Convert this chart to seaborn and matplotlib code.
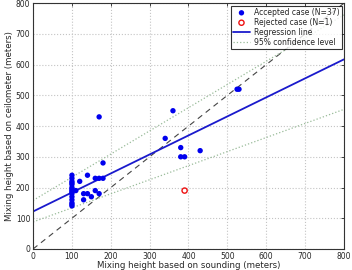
import numpy as np
import pandas as pd
import matplotlib
matplotlib.use('Agg')
import matplotlib.pyplot as plt
import seaborn as sns

# Datos (metros)
sondeo = [100, 100, 100, 100, 100, 100, 100, 100, 100, 100, 100, 100, 100, 100,
          110, 120, 130, 130, 140, 140, 150, 160, 160, 170, 170, 170, 180, 180,
          340, 360, 380, 380, 390, 430, 525, 530, 100]
ceilometro = [240, 230, 220, 215, 210, 200, 195, 190, 185, 180, 170, 160, 150, 140,
              190, 220, 180, 160, 240, 180, 170, 230, 190, 230, 180, 430, 230, 280,
              360, 450, 330, 300, 300, 320, 520, 520, 145]
rechazado_x = [390]
rechazado_y = [190]

# Recta de regresion y limites de confianza (intercepto, pendiente)
reg = (122, 0.619)
conf_sup = (158, 0.755)
conf_inf = (88, 0.458)
lim = [0, 800]

df = pd.DataFrame({'sondeo': sondeo, 'ceilometro': ceilometro})

sns.set_style('white')
plt.rcParams['font.family'] = ['DejaVu Sans']
fig, ax = plt.subplots(figsize=(3.52, 2.70), dpi=100)

xs = np.array(lim)
ax.plot(xs, xs, color='#444444', ls=(0, (5, 4)), lw=0.8)
sns.scatterplot(data=df, x='sondeo', y='ceilometro', ax=ax, color='#0000ee',
                s=15, edgecolor='none', label='Accepted case (N=37)', zorder=3)
ax.scatter(rechazado_x, rechazado_y, facecolor='none', edgecolor='#ee1111',
           s=14, lw=1.0, label='Rejected case (N=1)', zorder=3)
ax.plot(xs, reg[0] + reg[1] * xs, color='#1a1acc', lw=1.3, label='Regression line')
ax.plot(xs, conf_sup[0] + conf_sup[1] * xs, color='#99bb99', ls=':', lw=0.9,
        label='95% confidence level')
ax.plot(xs, conf_inf[0] + conf_inf[1] * xs, color='#99bb99', ls=':', lw=0.9)

ax.set_xlim(lim)
ax.set_ylim(lim)
ax.set_xticks(range(0, 801, 100))
ax.set_yticks(range(0, 801, 100))
ax.grid(True, color='#c4c4c4', ls=':', lw=0.8)
ax.tick_params(labelsize=5.5, direction='in', length=2, pad=2,
               top=True, right=True, width=0.6)
for s in ax.spines.values():
    s.set_color('#333333')
    s.set_linewidth(0.8)
ax.set_xlabel('Mixing height based on sounding (meters)', fontsize=6.2, labelpad=0)
ax.set_ylabel('Mixing height based on ceilometer (meters)', fontsize=6.2, labelpad=1)

leg = ax.legend(loc='upper right', fontsize=5.5, frameon=True, fancybox=False,
                borderpad=0.3, labelspacing=0.12, handlelength=2.2,
                handletextpad=0.5, borderaxespad=0.3)
leg.get_frame().set_edgecolor('black')
leg.get_frame().set_linewidth(0.8)

fig.subplots_adjust(left=0.094, right=0.977, top=0.988, bottom=0.078)
fig.savefig('out.png', dpi=100)
